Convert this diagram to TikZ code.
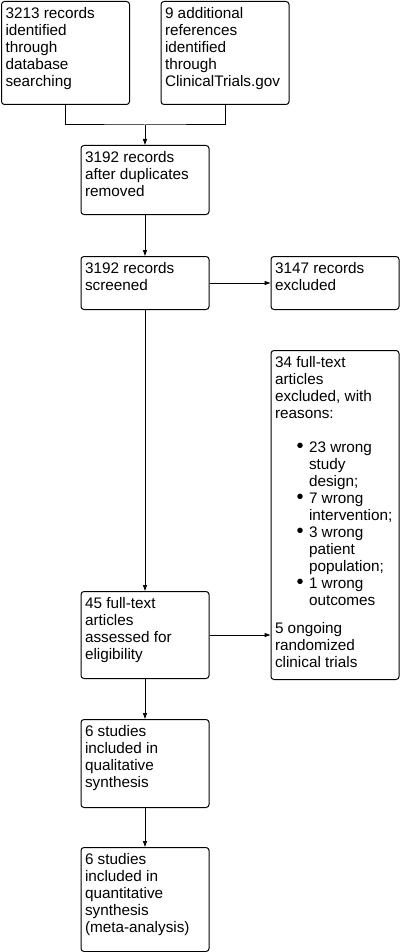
\documentclass[tikz,border=0pt]{standalone}
\usepackage{fontspec}
\setmainfont{Liberation Sans}
\usetikzlibrary{arrows.meta,positioning}

\newcommand{\boxfont}{\fontsize{15.3}{17}\selectfont}
\newcommand{\boxtxt}[2]{\parbox[c][#1][t]{120pt}{\strut #2}}
\newcommand{\bul}[1]{\hspace*{21.5pt}\makebox[12.5pt][l]{\raisebox{-0.5pt}{\fontsize{20}{20}\selectfont\textbullet}}#1}
\newcommand{\cont}[1]{\hspace*{34pt}#1}

\begin{document}
\begin{tikzpicture}[x=1pt,y=-1pt,line width=1pt,
    box/.style={draw, rounded corners=3pt, anchor=north west, inner xsep=4pt, inner ysep=5pt, font=\boxfont},
    arr/.style={-{Triangle[length=6pt,width=4pt]}}]
    \useasboundingbox (0,0) rectangle (402,952);

    % Identification
    \node[box] (db) at (1,1) {\boxtxt{93pt}{3213 records\\identified\\through\\database\\searching}};
    \node[box] (ctg) at (160.5,1) {\boxtxt{93pt}{9 additional\\references\\identified\\through\\ClinicalTrials.gov}};

    % Screening
    \node[box] (dup) at (80.5,145) {\boxtxt{59pt}{3192 records\\after duplicates\\removed}};
    \node[box] (scr) at (80.5,256) {\boxtxt{43pt}{3192 records\\screened}};
    \node[box] (excl) at (270.5,256) {\boxtxt{43pt}{3147 records\\excluded}};

    % Eligibility
    \node[box] (reas) at (270.5,350) {\boxtxt{319pt}{34 full-text\\articles\\excluded, with\\reasons:\\[17pt]
        \bul{23 wrong}\\\cont{study}\\\cont{design;}\\
        \bul{7 wrong}\\\cont{intervention;}\\
        \bul{3 wrong}\\\cont{patient}\\\cont{population;}\\
        \bul{1 wrong}\\\cont{outcomes}\\[10.7pt]
        5 ongoing\\randomized\\clinical trials}};
    \node[box] (full) at (80.5,591) {\boxtxt{77pt}{45 full-text\\articles\\assessed for\\eligibility}};

    % Included
    \node[box] (qual) at (80.5,719) {\boxtxt{78pt}{6 studies\\included in\\qualitative\\synthesis}};
    \node[box] (quant) at (80.5,847) {\boxtxt{94pt}{6 studies\\included in\\quantitative\\synthesis\\(meta-analysis)}};

    % Connectors
    \path (dup.north) ++(0,-20) coordinate (merge);
    \draw (db.south) |- (merge) -| (ctg.south);
    \draw[arr] (merge) -- (dup.north);
    \draw[arr] (dup.south) -- (scr.north);
    \draw[arr] (scr.east) -- (excl.west);
    \draw[arr] (scr.south) -- (full.north);
    \draw[arr] (full.east) -- (full.east -| reas.west);
    \draw[arr] (full.south) -- (qual.north);
    \draw[arr] (qual.south) -- (quant.north);
\end{tikzpicture}
\end{document}
